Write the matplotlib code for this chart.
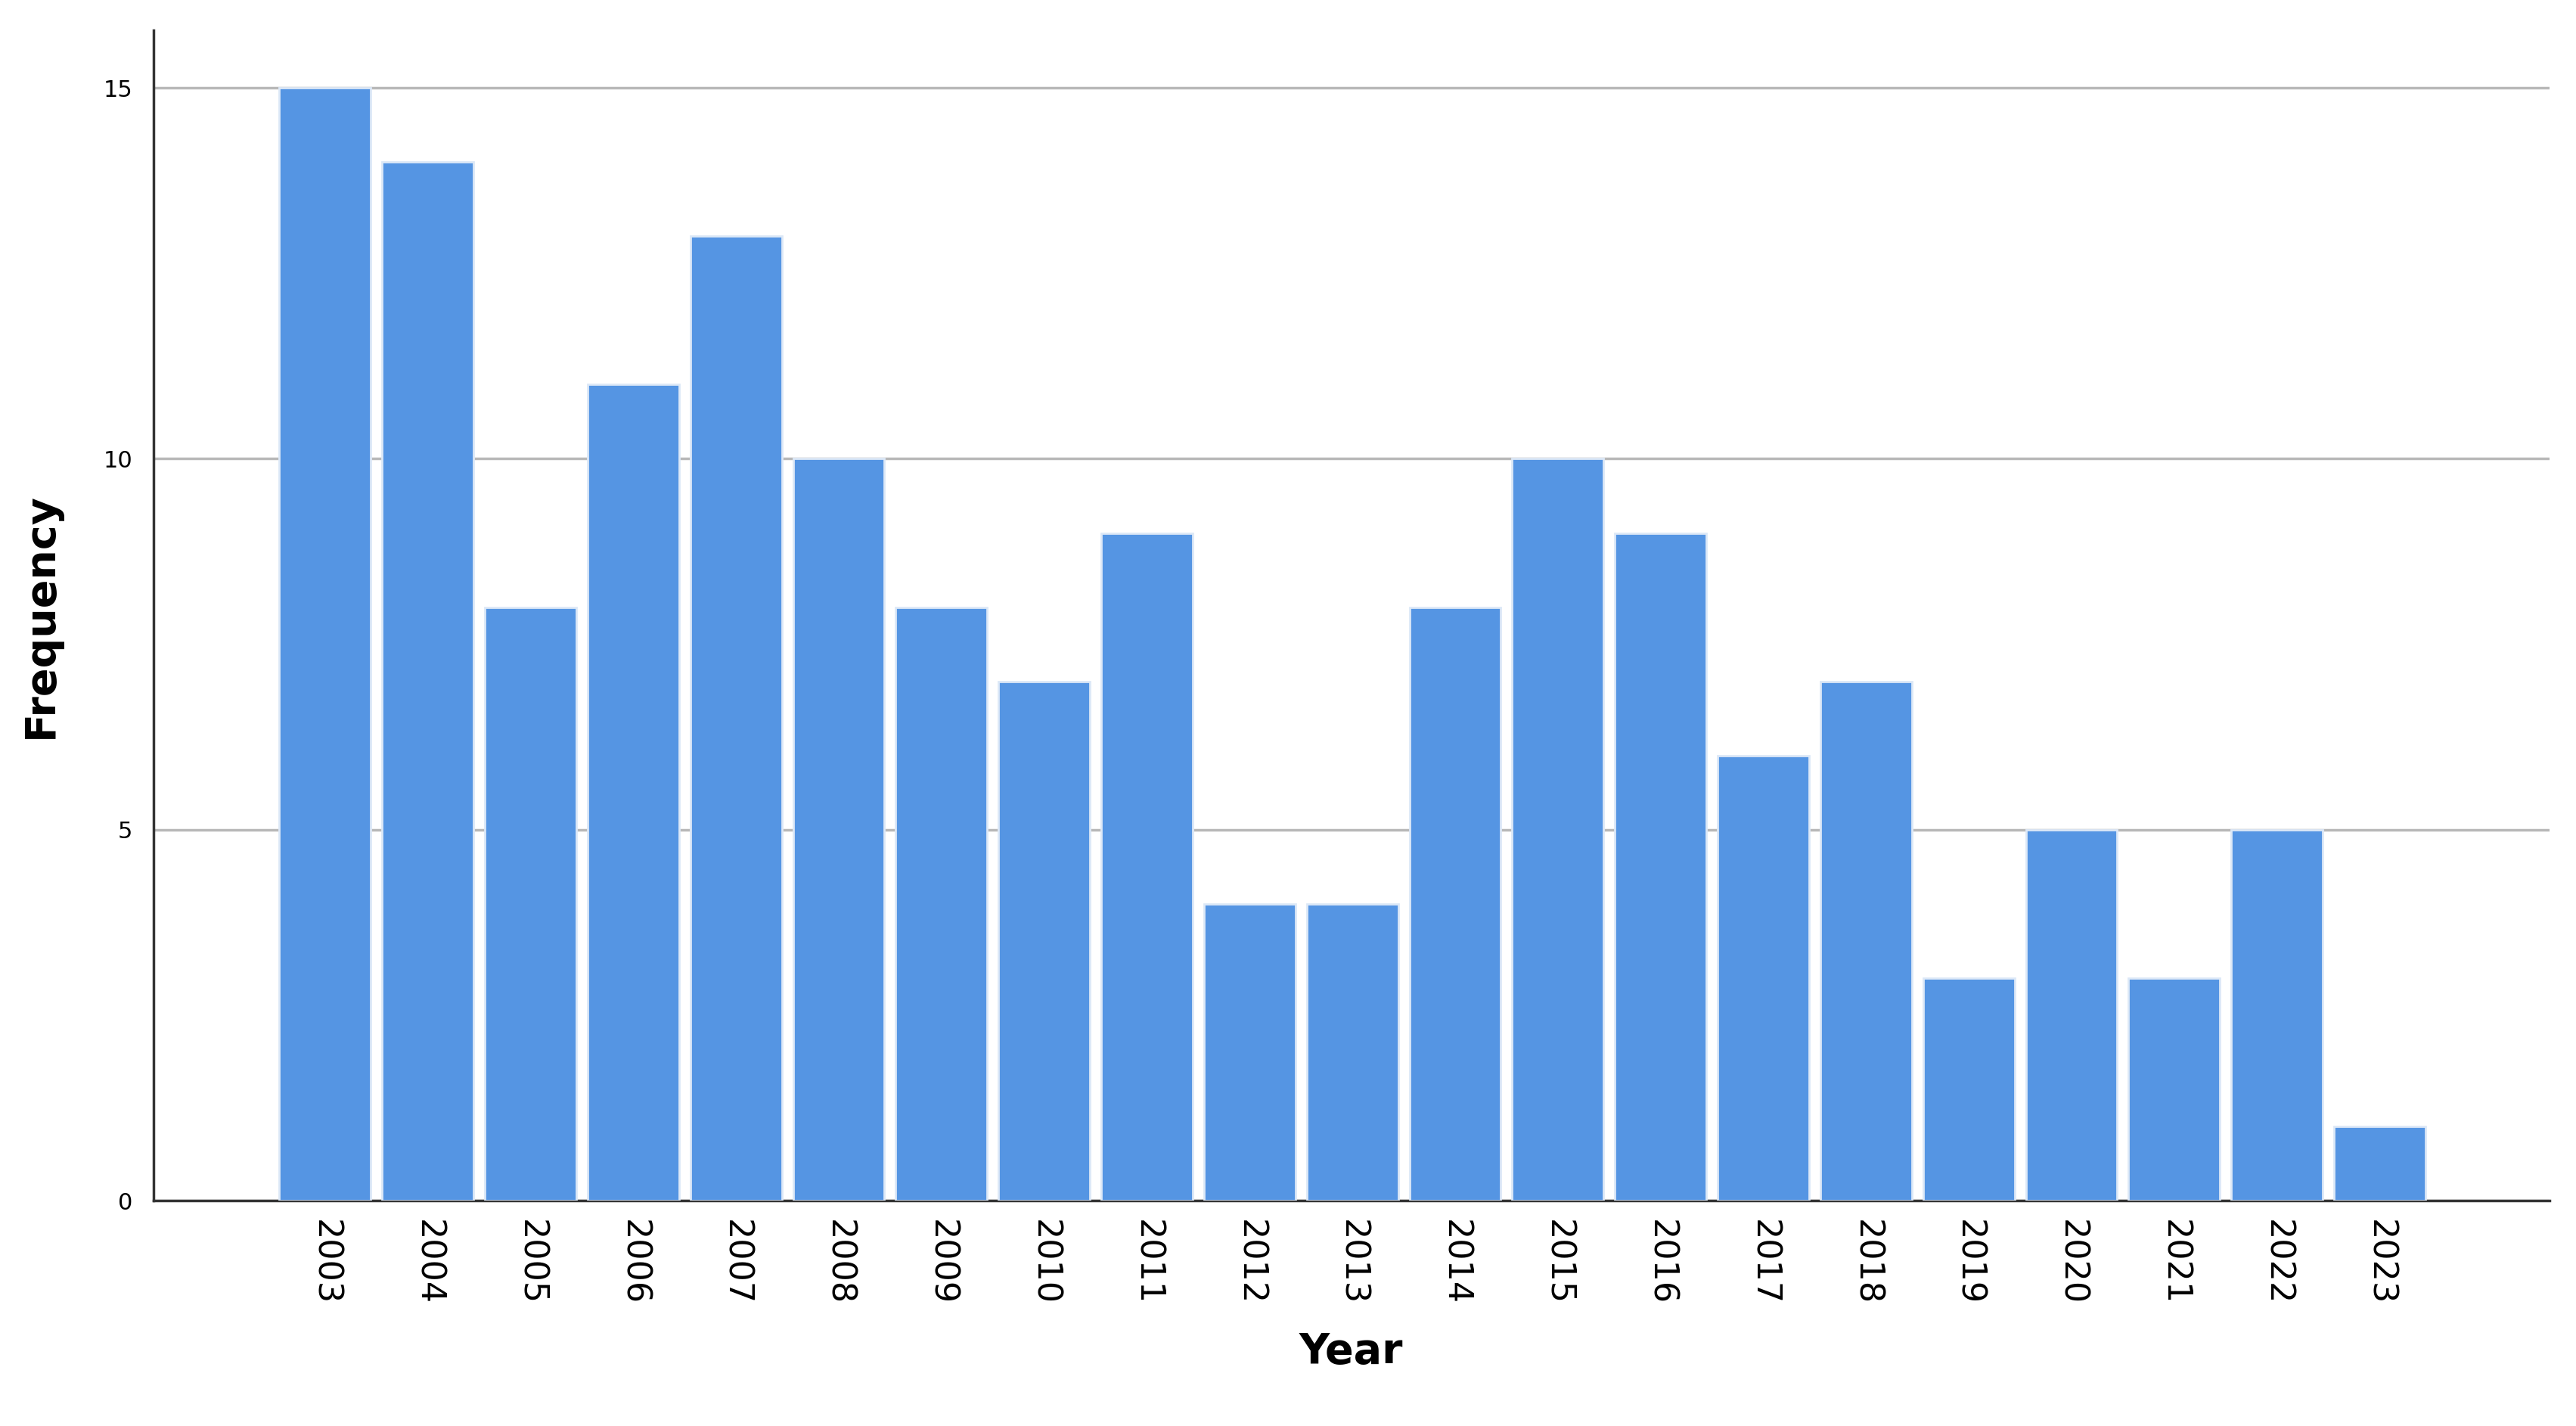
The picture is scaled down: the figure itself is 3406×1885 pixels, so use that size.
import matplotlib.pyplot as plt
import numpy as np

years = [str(y) for y in range(2003, 2024)]
freq = [15, 14, 8, 11, 13, 10, 8, 7, 9, 4, 4, 8, 10, 9, 6, 7, 3, 5, 3, 5, 1]

fig = plt.figure(figsize=(34.06, 18.85), dpi=100)
ax = fig.add_axes([0.0596, 0.158, 0.930, 0.821])

x = np.arange(len(years))
ax.bar(x, freq, width=0.89, color='#5595e3', edgecolor='#dce8f7', linewidth=2, zorder=3)

ax.set_xlim(-1.67, len(years) - 1 + 1.65)
ax.set_ylim(0, 15.78)
ax.set_yticks([0, 5, 10, 15])
ax.yaxis.grid(True, color='#b8b8b8', linewidth=2.5, zorder=0)
ax.set_xticks(x)
ax.set_xticklabels(years, rotation=270, fontsize=32)
ax.tick_params(axis='x', length=0, pad=18)
ax.tick_params(axis='y', labelsize=22, length=0, pad=20)

for s in ['top', 'right']:
    ax.spines[s].set_visible(False)
for s in ['left', 'bottom']:
    ax.spines[s].set_linewidth(2.5)
    ax.spines[s].set_color('#333333')

ax.set_xlabel('Year', fontsize=40, fontweight='bold', labelpad=25)
ax.set_ylabel('Frequency', fontsize=40, fontweight='bold', labelpad=40)

fig.savefig('out.png', dpi=100)
